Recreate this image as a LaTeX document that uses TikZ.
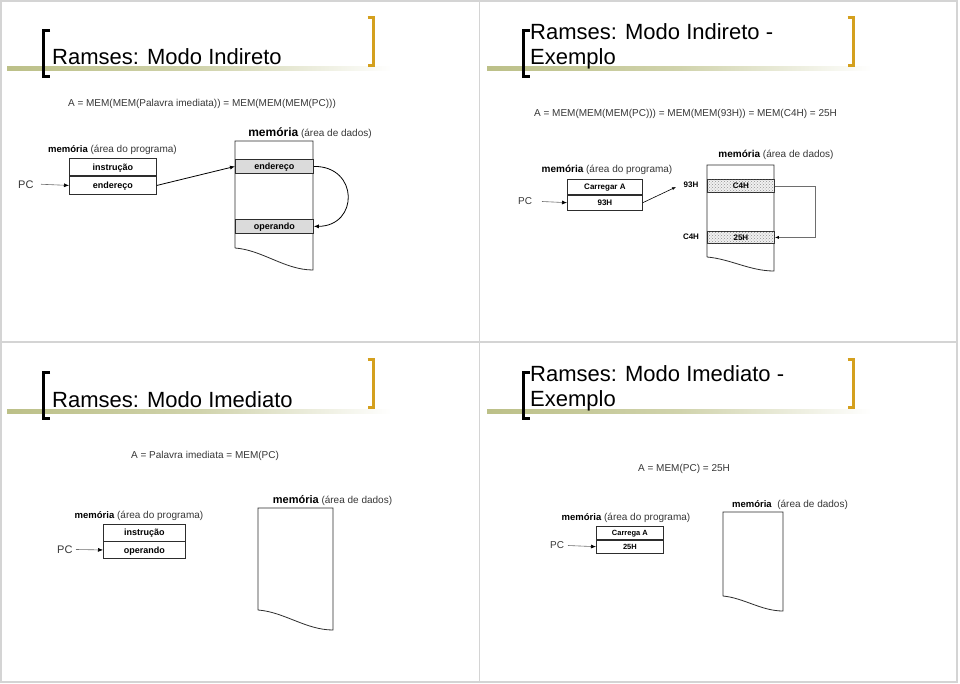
\documentclass[tikz,border=0pt]{standalone}
\usepackage{fontspec}
\setmainfont{Liberation Sans}
\usetikzlibrary{arrows.meta,patterns}
\definecolor{textgray}{RGB}{55,55,55}
\definecolor{linegray}{RGB}{45,45,45}
\definecolor{decoline}{RGB}{188,192,136}
\definecolor{goldbr}{RGB}{212,160,30}
\definecolor{framegray}{RGB}{212,212,212}
\definecolor{thingray}{RGB}{110,110,110}

\newcommand\slidedeco[2]{%
  \begin{scope}[shift={(#1,#2)}]
    \shade[left color=decoline,right color=white,middle color=decoline!70!white] (7,67) rectangle (392,71);
    \draw[line width=3pt, black] (50,30.5) -- (43.5,30.5) -- (43.5,76.5) -- (50,76.5);
    \draw[line width=3pt, goldbr] (367.5,17.5) -- (373.5,17.5) -- (373.5,65.5) -- (367.5,65.5);
  \end{scope}}
\newcommand\datamem[5]{%
  \draw[memline] (#1,#4) -- (#1,#3) -- (#2,#3) -- (#2,#5)
    .. controls ({#2-0.36*(#2-#1)},#5) and ({#1+0.35*(#2-#1)},{#4+2}) .. (#1,#4);}
\newcommand\memw[1]{{\color{black}\bfseries\fontsize{#1}{#1}\selectfont mem\'oria}}

\begin{document}
\begin{tikzpicture}[
  x=1pt, y=-1pt,
  titletext/.style={font=\fontsize{22}{26}\selectfont, text=black, inner sep=0pt, anchor=base west},
  formula/.style={font=\fontsize{10}{12}\selectfont, text=textgray, inner sep=0pt, anchor=base},
  memlabel/.style={font=\fontsize{10}{12}\selectfont, text=textgray, inner sep=0pt, anchor=base},
  cell/.style={draw=linegray, line width=0.8pt, inner sep=0pt, anchor=north west, text=black, text depth=0pt},
  cellnine/.style={cell, font=\bfseries\fontsize{9}{10}\selectfont, text height=6.6pt},
  celleight/.style={cell, font=\bfseries\fontsize{8}{9}\selectfont, text height=5.9pt},
  cellsmall/.style={cell, font=\bfseries\fontsize{7.5}{8}\selectfont, text height=5.5pt},
  datacell/.style={cellnine, fill=gray!28},
  dotcell/.style={celleight, fill=gray!12, postaction={pattern=crosshatch dots, pattern color=gray!85}},
  pclabel/.style={font=\fontsize{11}{12}\selectfont, text=textgray, inner sep=0pt, anchor=west},
  addr/.style={font=\bfseries\fontsize{8}{9}\selectfont, text=black, inner sep=0pt},
  memline/.style={draw=linegray, line width=0.8pt},
  pcarr/.style={draw=thingray, line width=0.6pt, -{Latex[length=5pt,width=4pt,color=black]}},
  arr/.style={draw=black, line width=0.8pt, -{Latex[length=5pt,width=4pt]}},
  thinarr/.style={draw=thingray, line width=0.6pt, -{Latex[length=4pt,width=3pt,color=black]}},
]
\useasboundingbox (0,0) rectangle (960,684);
\fill[white] (0,0) rectangle (960,684);

% slide frames
\draw[framegray, line width=1.5pt] (1,1) rectangle (957,682);
\draw[framegray, line width=1.5pt] (479.5,1) -- (479.5,682);
\draw[framegray, line width=1.5pt] (1,342) -- (957,342);

% decorations
\slidedeco{0}{0}
\slidedeco{480}{0}
\slidedeco{0}{342}
\slidedeco{480}{342}

%================ Slide 1 =================
\node[titletext] (t1) at (52,65) {Ramses: Modo Indireto};
\node[formula] (f1) at (202,107) {A = MEM(MEM(Palavra imediata)) = MEM(MEM(MEM(PC)))};
\node[memlabel] (pl1) at (112.5,153) {\memw{9.5} (\'area do programa)};
\node[memlabel] (dl1) at (310,137) {\memw{12} (\'area de dados)};
\node[cellnine, minimum width=87pt, minimum height=17.5pt] (p1a) at (69,158) {instru\c{c}\~ao};
\node[cellnine, minimum width=87pt, minimum height=17.5pt] (p1b) at (p1a.south west) {endere\c{c}o};
\node[pclabel] (pc1) at (18,184.25) {PC};
\coordinate (pc1s) at (41,184.25);
\draw[pcarr] (pc1s) -- (p1b.west);
\datamem{235}{313}{141}{248}{270}
\node[datacell, minimum width=78pt, minimum height=14pt] (d1a) at (235,159) {endere\c{c}o};
\node[datacell, minimum width=78pt, minimum height=14pt] (d1b) at (235,219) {operando};
\draw[arr] (p1b.east) -- (d1a.west);
\draw[arr] (d1a.east) .. controls (359,166) and (359,226) .. (d1b.east);

%================ Slide 2 =================
\node[titletext] (t2a) at (530,40) {Ramses: Modo Indireto -};
\node[titletext] (t2b) at (530,65) {Exemplo};
\node[formula] (f2) at (685.5,116.5) {A = MEM(MEM(MEM(PC))) = MEM(MEM(93H)) = MEM(C4H) = 25H};
\node[memlabel] (pl2) at (607,172.5) {\memw{10} (\'area do programa)};
\node[memlabel] (dl2) at (776,158) {\memw{10} (\'area de dados)};
\node[celleight, minimum width=75pt, minimum height=15pt] (p2a) at (567,179) {Carregar A};
\node[celleight, minimum width=75pt, minimum height=15pt] (p2b) at (p2a.south west) {93H};
\node[pclabel, font=\fontsize{10}{12}\selectfont] (pc2) at (518,201.5) {PC};
\coordinate (pc2s) at (542,201.5);
\draw[pcarr] (pc2s) -- (p2b.west);
\coordinate (a2end) at (676,187);
\draw[thinarr, draw=black] (p2b.east) -- (a2end);
\datamem{707}{774}{165}{257}{271}
\node[dotcell, minimum width=67pt, minimum height=13pt] (d2a) at (707,179) {C4H};
\node[dotcell, minimum width=67pt, minimum height=12pt] (d2b) at (707,231) {25H};
\node[addr] (ad2a) at (691,185) {93H};
\node[addr] (ad2b) at (691,237) {C4H};
\draw[thinarr] (d2a.east) -- ++(40,0) |- (d2b.east);

%================ Slide 3 =================
\node[titletext] (t3) at (52,407) {Ramses: Modo Imediato};
\node[formula] (f3) at (205,458.5) {A = Palavra imediata = MEM(PC)};
\node[memlabel] (pl3) at (139,518.5) {\memw{9.5} (\'area do programa)};
\node[memlabel] (dl3) at (332.5,503) {\memw{11} (\'area de dados)};
\node[cellnine, minimum width=82pt, minimum height=16.5pt] (p3a) at (103,524) {instru\c{c}\~ao};
\node[cellnine, minimum width=82pt, minimum height=16.5pt] (p3b) at (p3a.south west) {operando};
\node[pclabel] (pc3) at (57,549.5) {PC};
\coordinate (pc3s) at (76,549.5);
\draw[pcarr] (pc3s) -- (p3b.west);
\datamem{258}{333}{508}{610}{630}

%================ Slide 4 =================
\node[titletext] (t4a) at (530,381) {Ramses: Modo Imediato -};
\node[titletext] (t4b) at (530,406) {Exemplo};
\node[formula] (f4) at (684,471) {A = MEM(PC) = 25H};
\node[memlabel] (pl4) at (626,520) {\memw{9.5} (\'area do programa)};
\node[memlabel] (dl4) at (790,507) {\memw{9.5}\ \ (\'area de dados)};
\node[cellsmall, minimum width=67pt, minimum height=13pt] (p4a) at (596,526) {Carrega A};
\node[cellsmall, minimum width=67pt, minimum height=13pt] (p4b) at (p4a.south west) {25H};
\node[pclabel, font=\fontsize{10}{12}\selectfont] (pc4) at (550,545.5) {PC};
\coordinate (pc4s) at (568,545.5);
\draw[pcarr] (pc4s) -- (p4b.west);
\datamem{723}{783}{512}{596}{611}

\end{tikzpicture}
\end{document}
